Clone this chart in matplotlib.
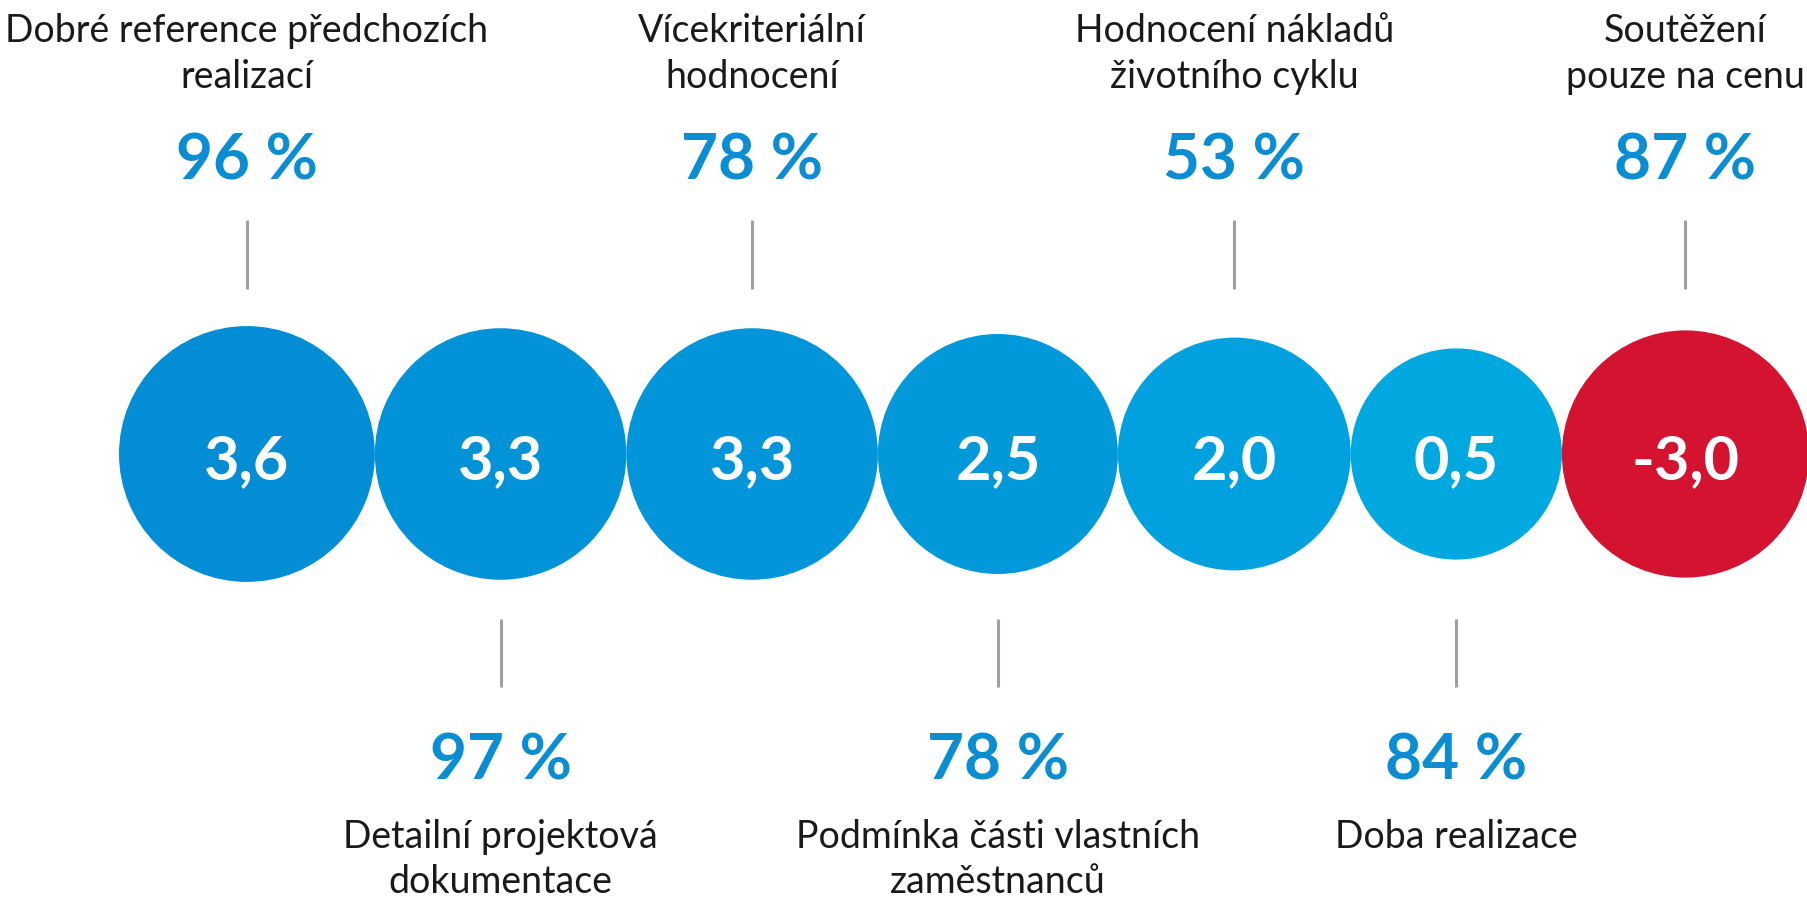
#!/usr/bin/env python3
"""
Bubble strip: criteria scores with share of respondents.
"""

import matplotlib
matplotlib.use('Agg')
import matplotlib.pyplot as plt
from matplotlib.patches import Circle

# Data
labels = [
    'Dobré reference předchozích\nrealizací',
    'Detailní projektová\ndokumentace',
    'Vícekriteriální\nhodnocení',
    'Podmínka části vlastních\nzaměstnanců',
    'Hodnocení nákladů\nživotního cyklu',
    'Doba realizace',
    'Soutěžení\npouze na cenu',
]
scores = [3.6, 3.3, 3.3, 2.5, 2.0, 0.5, -3.0]
shares = [96, 97, 78, 78, 53, 84, 87]
colors = ['#028DD5', '#0292D7', '#0295D9', '#0299DA', '#00A1DE', '#00A8E0', '#D31330']

FONT = 'Lato'
PCT_COLOR = '#0A8DD3'
TEXT_COLOR = '#1A1A1A'


def main():
    W, H = 1808, 899
    fig = plt.figure(figsize=(W / 100, H / 100), dpi=100)
    ax = fig.add_axes([0, 0, 1, 1])
    ax.set_xlim(0, W)
    ax.set_ylim(H, 0)
    ax.set_aspect('equal')
    ax.axis('off')

    # radius grows with the absolute score, circles packed side by side
    radii = [102 + 7.2 * abs(v) for v in scores]
    cy = 454
    x = 119
    centers = []
    for r in radii:
        centers.append(x + r)
        x += 2 * r

    for i, (cx, r, v) in enumerate(zip(centers, radii, scores)):
        ax.add_patch(Circle((cx, cy), r, facecolor=colors[i], edgecolor='none', zorder=2))
        ax.text(cx, 479, f'{v:.1f}'.replace('.', ','), color='white', fontsize=44,
                fontweight='bold', family=FONT, ha='center', va='baseline', zorder=3)

        lines = labels[i].split('\n')
        pct = f'{shares[i]} %'
        if i % 2 == 0:
            # label above
            for j, line in enumerate(lines):
                ax.text(cx, 42 + 46 * j, line, fontsize=27, family=FONT, color=TEXT_COLOR,
                        ha='center', va='baseline')
            ax.text(cx, 180, pct, fontsize=46, fontweight='bold', family=FONT,
                    color=PCT_COLOR, ha='center', va='baseline')
            ax.plot([cx, cx], [220, 289], color='#A0A0A0', lw=2.2, solid_capstyle='butt')
        else:
            # label below
            ax.plot([cx, cx], [619, 687], color='#A0A0A0', lw=2.2, solid_capstyle='butt')
            ax.text(cx, 780, pct, fontsize=46, fontweight='bold', family=FONT,
                    color=PCT_COLOR, ha='center', va='baseline')
            for j, line in enumerate(lines):
                ax.text(cx, 848 + 45 * j, line, fontsize=27, family=FONT, color=TEXT_COLOR,
                        ha='center', va='baseline')

    fig.savefig('out.png', dpi=100, facecolor='white')


if __name__ == '__main__':
    main()
